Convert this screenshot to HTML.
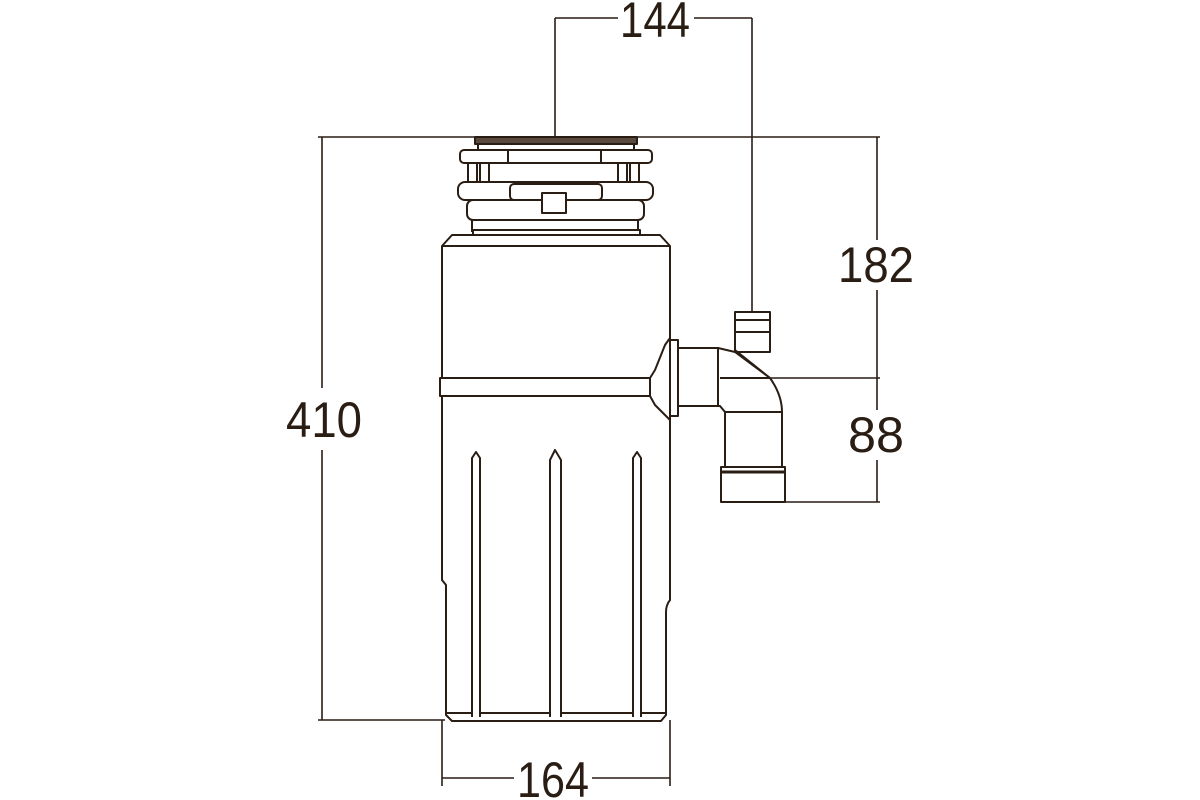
<!DOCTYPE html>
<html><head><meta charset="utf-8"><style>
html,body{margin:0;padding:0;background:#fff;}
svg{display:block}
text{font-family:"Liberation Sans",sans-serif;font-size:50px;fill:#2a1d14;}
</style></head><body>
<svg width="1200" height="800" viewBox="0 0 1200 800" xmlns="http://www.w3.org/2000/svg">
<g stroke="#2a1d14" stroke-width="1.6" fill="none">
<!-- dimension lines -->
<line x1="555" y1="18" x2="555" y2="137"/>
<line x1="555" y1="18" x2="618" y2="18"/>
<line x1="694" y1="18" x2="752" y2="18"/>
<line x1="752" y1="18" x2="752" y2="312"/>
<line x1="318" y1="137" x2="880" y2="137"/>
<line x1="322" y1="137" x2="322" y2="388"/>
<line x1="322" y1="450" x2="322" y2="720"/>
<line x1="318" y1="720" x2="445" y2="720"/>
<line x1="877" y1="137" x2="877" y2="240"/>
<line x1="877" y1="290" x2="877" y2="410"/>
<line x1="877" y1="460" x2="877" y2="502"/>
<line x1="770" y1="378" x2="880" y2="378"/>
<line x1="785" y1="502" x2="880" y2="502"/>
<line x1="442" y1="720" x2="442" y2="786"/>
<line x1="670" y1="720" x2="670" y2="786"/>
<line x1="442" y1="778" x2="514" y2="778"/>
<line x1="592" y1="778" x2="670" y2="778"/>
</g>
<text x="655" y="37" text-anchor="middle" textLength="70" lengthAdjust="spacingAndGlyphs">144</text>
<text x="324" y="437" text-anchor="middle" textLength="76" lengthAdjust="spacingAndGlyphs">410</text>
<text x="876" y="282" text-anchor="middle" textLength="76" lengthAdjust="spacingAndGlyphs">182</text>
<text x="876" y="452" text-anchor="middle" textLength="56" lengthAdjust="spacingAndGlyphs">88</text>
<text x="553" y="797" text-anchor="middle" textLength="72" lengthAdjust="spacingAndGlyphs">164</text>

<g stroke="#2a1d14" stroke-width="2" fill="#fff" stroke-linejoin="round">
<!-- flange top -->
<rect x="475" y="137" width="162" height="7" fill="#5a4a3e"/>
<rect x="478" y="144" width="156" height="6"/>
<rect x="460" y="150" width="192" height="13" rx="4"/>
<line x1="508" y1="150" x2="508" y2="163"/>
<line x1="601" y1="150" x2="601" y2="163"/>
<rect x="468" y="163" width="9" height="20"/>
<rect x="480" y="163" width="9" height="20"/>
<rect x="618" y="163" width="9" height="20"/>
<rect x="630" y="163" width="9" height="20"/>
<rect x="458" y="182" width="195" height="18" rx="7"/>
<rect x="510" y="184" width="92" height="16" rx="4"/>
<rect x="467" y="200" width="177" height="20" rx="6"/>
<rect x="542" y="193" width="24" height="20"/>
<line x1="472" y1="220" x2="472" y2="232"/>
<line x1="638" y1="220" x2="638" y2="232"/>
<rect x="473" y="230" width="167" height="5"/>
<!-- body -->
<path d="M452 235 L660 235 L670 246 L670 600 Q666 605 666 612 L666 715 L661 721 L452 721 L446 715 L446 585 L442 580 L442 246 Z"/>
<line x1="442" y1="246" x2="670" y2="246"/>
<rect x="440" y="378" width="232" height="18" fill="#fff"/>
<line x1="447" y1="713" x2="666" y2="713"/>
<!-- ribs -->
<path d="M472 717 L472 458 L476 452 L480 458 L480 717" />
<path d="M550 717 L550 460 L555 450 L561 460 L561 717" />
<path d="M633 717 L633 458 L637 452 L641 458 L641 717" />
<!-- pipe connection -->
<path d="M670 338 L665 345 L655 370 L650 378 L650 396 L655 405 L665 415 L670 420 Z"/>
<rect x="670" y="340" width="8" height="76"/>
<path d="M678 348 L718 348 L735 352 L770 378 Q782 395 782 412 L782 470 L725 470 L725 412 L720 406 L678 406 Z"/>
<line x1="718" y1="348" x2="718" y2="406"/>
<line x1="720" y1="378" x2="770" y2="378"/>
<line x1="725" y1="412" x2="782" y2="412"/>
<rect x="735" y="312" width="35" height="40"/>
<line x1="735" y1="320" x2="770" y2="320"/>
<line x1="735" y1="332" x2="770" y2="332"/>
<path d="M735 350 L770 378"/>
<rect x="721" y="467" width="64" height="35"/>
<line x1="721" y1="472" x2="785" y2="472" stroke-width="3"/>
</g>
</svg>
</body></html>
